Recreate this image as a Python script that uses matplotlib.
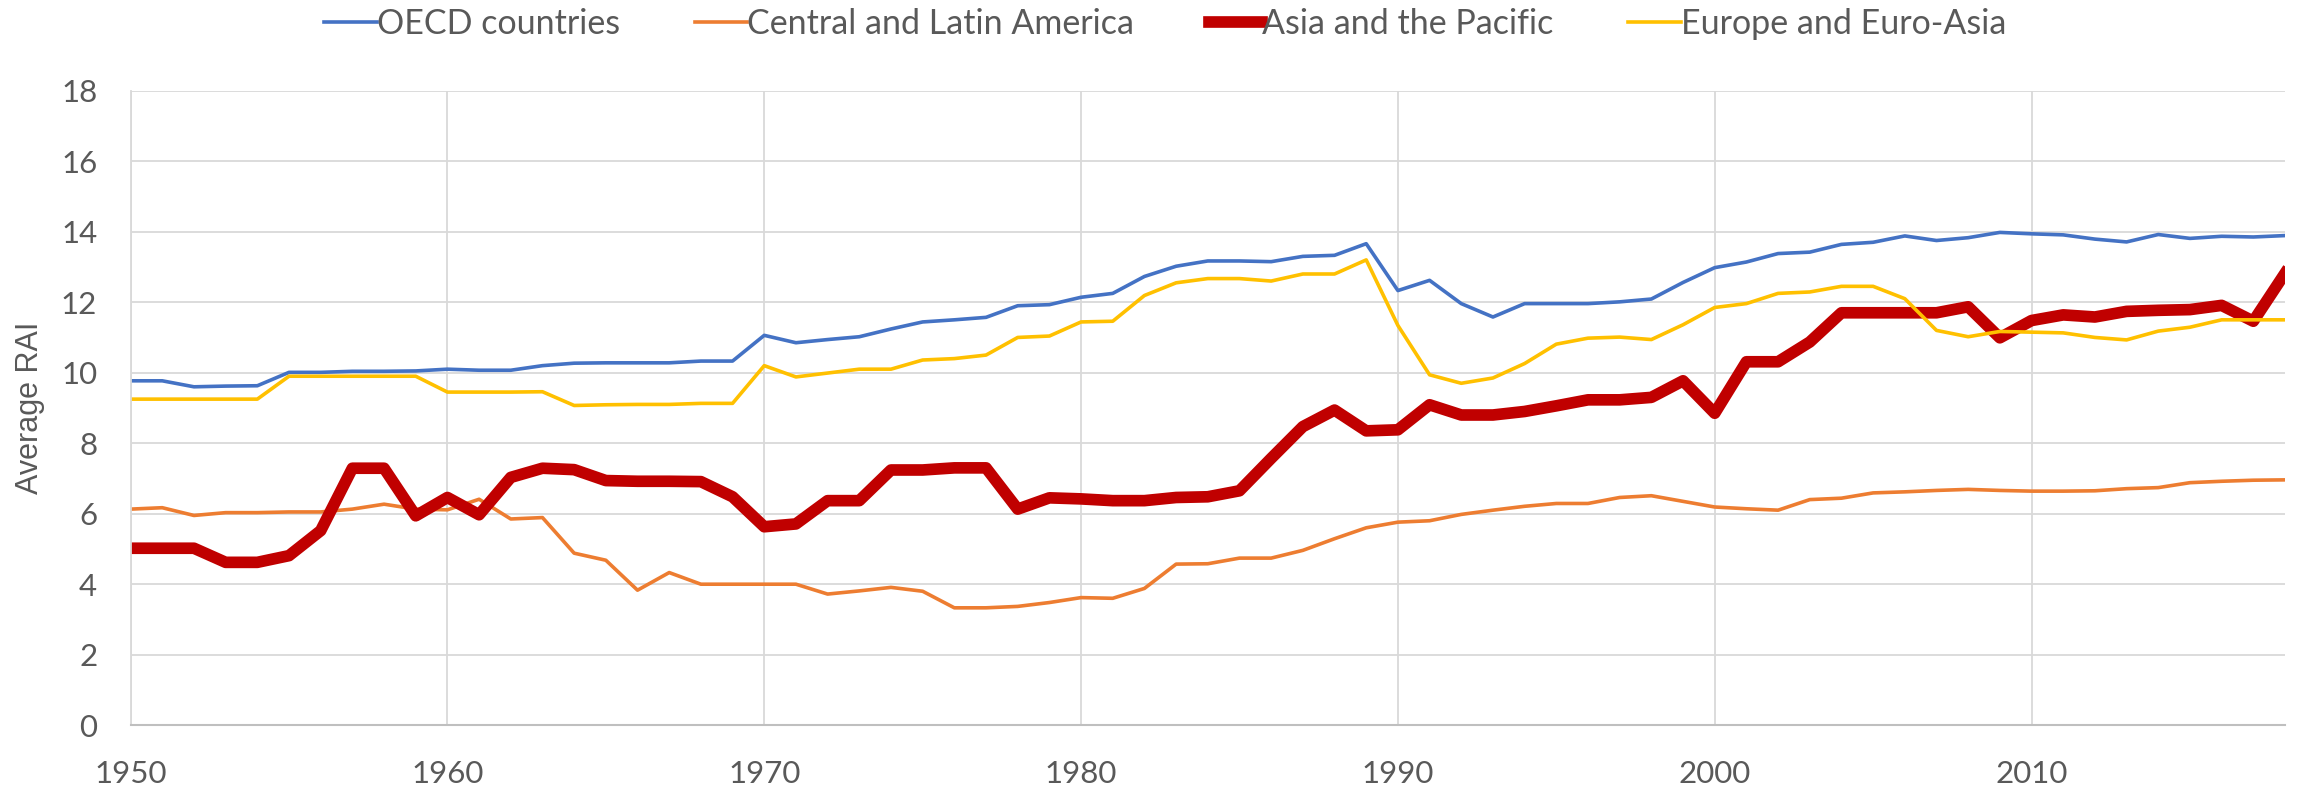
import matplotlib
matplotlib.use("Agg")
import matplotlib.pyplot as plt
from matplotlib.ticker import MultipleLocator

years = list(range(1950, 2019))

oecd = [9.77, 9.77, 9.60, 9.62, 9.63, 10.01, 10.01, 10.04, 10.04, 10.05,
        10.10, 10.07, 10.07, 10.20, 10.27, 10.28, 10.28, 10.28, 10.33, 10.33,
        11.06, 10.85, 10.94, 11.02, 11.24, 11.44, 11.50, 11.57, 11.90, 11.93,
        12.14, 12.25, 12.73, 13.02, 13.17, 13.17, 13.15, 13.30, 13.33, 13.66,
        12.33, 12.62, 11.96, 11.58, 11.96, 11.96, 11.96, 12.01, 12.09, 12.56,
        12.98, 13.14, 13.38, 13.42, 13.64, 13.70, 13.88, 13.75, 13.83, 13.98,
        13.94, 13.91, 13.79, 13.71, 13.92, 13.81, 13.87, 13.85, 13.89]

latin = [6.13, 6.17, 5.95, 6.03, 6.03, 6.05, 6.05, 6.13, 6.27, 6.13,
         6.11, 6.41, 5.85, 5.89, 4.88, 4.68, 3.83, 4.33, 4.00, 4.00,
         4.00, 4.00, 3.72, 3.81, 3.91, 3.80, 3.33, 3.33, 3.37, 3.48,
         3.62, 3.60, 3.88, 4.57, 4.58, 4.74, 4.74, 4.96, 5.29, 5.60,
         5.76, 5.80, 5.98, 6.10, 6.21, 6.29, 6.29, 6.46, 6.51, 6.35,
         6.19, 6.14, 6.10, 6.40, 6.44, 6.59, 6.62, 6.66, 6.69, 6.66,
         6.64, 6.64, 6.65, 6.71, 6.74, 6.88, 6.92, 6.95, 6.96]

asia = [5.02, 5.02, 5.02, 4.62, 4.62, 4.81, 5.52, 7.29, 7.29, 5.94,
        6.46, 5.97, 7.03, 7.29, 7.25, 6.94, 6.92, 6.92, 6.91, 6.48,
        5.63, 5.71, 6.37, 6.37, 7.24, 7.24, 7.30, 7.30, 6.13, 6.45,
        6.42, 6.37, 6.37, 6.46, 6.48, 6.65, 7.57, 8.47, 8.94, 8.35,
        8.38, 9.09, 8.80, 8.80, 8.90, 9.06, 9.23, 9.23, 9.30, 9.77,
        8.85, 10.31, 10.31, 10.87, 11.70, 11.70, 11.70, 11.70, 11.87, 10.99,
        11.48, 11.64, 11.58, 11.74, 11.77, 11.79, 11.91, 11.46, 12.82]

europe = [9.25, 9.25, 9.25, 9.25, 9.25, 9.90, 9.90, 9.90, 9.90, 9.90,
          9.45, 9.45, 9.45, 9.46, 9.07, 9.09, 9.10, 9.10, 9.13, 9.13,
          10.20, 9.88, 9.99, 10.10, 10.10, 10.36, 10.40, 10.50, 11.00, 11.04,
          11.44, 11.46, 12.19, 12.55, 12.67, 12.67, 12.60, 12.80, 12.80, 13.20,
          11.34, 9.94, 9.70, 9.85, 10.26, 10.81, 10.98, 11.01, 10.94, 11.36,
          11.85, 11.96, 12.25, 12.29, 12.45, 12.45, 12.10, 11.20, 11.02, 11.17,
          11.15, 11.13, 11.00, 10.93, 11.18, 11.29, 11.50, 11.50, 11.50]

series_labels = ["OECD countries", "Central and Latin America",
                 "Asia and the Pacific", "Europe and Euro-Asia"]
x_ticks = [1950, 1960, 1970, 1980, 1990, 2000, 2010]
y_label = "Average RAI"

FONT = "Lato"
TXT = "#595959"
GRID = "#D9D9D9"

fig = plt.figure(figsize=(22.97, 7.90), dpi=100)
ax = fig.add_axes([130.6 / 2297, 1 - 725.2 / 790, (2285 - 130.6) / 2297, (725.2 - 90.7) / 790])

ax.plot(years, oecd, color="#4472C4", lw=2.6, label=series_labels[0], solid_joinstyle="round")
ax.plot(years, latin, color="#ED7D31", lw=2.6, label=series_labels[1], solid_joinstyle="round")
ax.plot(years, asia, color="#C00000", lw=8.4, label=series_labels[2], solid_joinstyle="round")
ax.plot(years, europe, color="#FFC000", lw=2.6, label=series_labels[3], solid_joinstyle="round")

ax.set_xlim(1950, 2018)
ax.set_ylim(0, 18)
ax.yaxis.set_major_locator(MultipleLocator(2))
ax.set_xticks(x_ticks)
ax.grid(True, color=GRID, lw=1.3, zorder=0)
ax.set_axisbelow(True)
for s in ["top", "right"]:
    ax.spines[s].set_visible(False)
ax.spines["left"].set_color(GRID)
ax.spines["left"].set_linewidth(1.3)
ax.spines["bottom"].set_color("#BFBFBF")
ax.spines["bottom"].set_linewidth(1.5)
ax.tick_params(axis="both", length=0, labelsize=22.5, labelcolor=TXT)
ax.tick_params(axis="x", pad=25)
ax.tick_params(axis="y", pad=24)
for lab in ax.get_xticklabels() + ax.get_yticklabels():
    lab.set_fontfamily(FONT)

fig.text(30 / 2297, 1 - 408 / 790, y_label, rotation=90, ha="center", va="center",
         fontsize=22, color=TXT, family="Liberation Sans")

leg = fig.legend(loc="center", bbox_to_anchor=(1165 / 2297, 1 - 24 / 790), ncol=4,
                 frameon=False, handlelength=1.55, handletextpad=0.0,
                 columnspacing=2.2, prop={"family": FONT, "size": 24.5})
for t in leg.get_texts():
    t.set_color(TXT)

fig.savefig("out.png", dpi=100)
